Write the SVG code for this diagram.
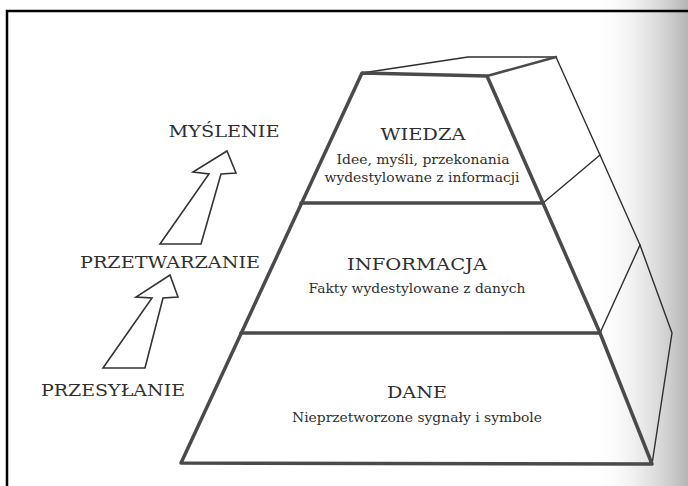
<svg xmlns="http://www.w3.org/2000/svg" width="688" height="486" viewBox="0 0 688 486">
<defs>
<linearGradient id="shade" x1="0" y1="0" x2="1" y2="0">
<stop offset="0" stop-color="#ffffff" stop-opacity="0"/>
<stop offset="0.55" stop-color="#d8d8d8" stop-opacity="0.6"/>
<stop offset="1" stop-color="#b4b4b4" stop-opacity="1"/>
</linearGradient>
<style>
.thick{fill:none;stroke:#4a4a4a;stroke-width:3.5;stroke-linejoin:round;stroke-linecap:round}
.thin{fill:none;stroke:#2e2e2e;stroke-width:1.4;stroke-linejoin:round;stroke-linecap:round}
.arrow{fill:#ffffff;stroke:#333333;stroke-width:1.6;stroke-linejoin:miter}
.cap{font-family:"DejaVu Serif","Liberation Serif",serif;font-size:17px;fill:#2f2f2f;text-anchor:middle}
.sub{font-family:"DejaVu Serif","Liberation Serif",serif;font-size:13px;fill:#2f2f2f;text-anchor:middle}
</style>
</defs>
<rect x="0" y="0" width="688" height="486" fill="#ffffff"/>
<rect x="590" y="0" width="98" height="486" fill="url(#shade)"/>
<path d="M7,486 V11 H688" fill="none" stroke="#000000" stroke-width="2.5"/>

<g id="pyramid-side">
<polyline class="thin" points="362,73 468,57 556,57"/>
<polyline class="thin" points="556,57 600,155 640,245 672,333 652,464"/>
<line class="thin" x1="543" y1="203" x2="600" y2="155"/>
<line class="thin" x1="600" y1="333" x2="640" y2="245"/>
<line class="thick" x1="556" y1="57" x2="487" y2="76" style="stroke-width:2.5"/>
</g>

<g id="pyramid-front">
<polygon class="thick" points="362,73 487,76 543,203 600,333 652,464 181,463"/>
</g>

<g id="wiedza">
<line class="thick" x1="301" y1="203" x2="543" y2="203"/>
<text class="cap" x="423" y="140" textLength="85" lengthAdjust="spacingAndGlyphs">WIEDZA</text>
<text class="sub" x="423" y="164" textLength="173" lengthAdjust="spacingAndGlyphs">Idee, myśli, przekonania</text>
<text class="sub" x="422" y="182" textLength="195" lengthAdjust="spacingAndGlyphs">wydestylowane z informacji</text>
</g>

<g id="informacja">
<line class="thick" x1="241" y1="333" x2="600" y2="333"/>
<text class="cap" x="417" y="270" textLength="140" lengthAdjust="spacingAndGlyphs">INFORMACJA</text>
<text class="sub" x="417" y="293" textLength="217" lengthAdjust="spacingAndGlyphs">Fakty wydestylowane z danych</text>
</g>

<g id="dane">
<text class="cap" x="417" y="398" textLength="60" lengthAdjust="spacingAndGlyphs">DANE</text>
<text class="sub" x="417" y="422" textLength="250" lengthAdjust="spacingAndGlyphs">Nieprzetworzone sygnały i symbole</text>
</g>

<g id="myslenie">
<text class="cap" x="224" y="137" textLength="111" lengthAdjust="spacingAndGlyphs">MYŚLENIE</text>
</g>
<g id="przetwarzanie">
<text class="cap" x="170" y="268" textLength="180" lengthAdjust="spacingAndGlyphs">PRZETWARZANIE</text>
</g>
<g id="przesylanie">
<text class="cap" x="113" y="396" textLength="144" lengthAdjust="spacingAndGlyphs">PRZESYŁANIE</text>
</g>

<g id="connectors">
<polygon class="arrow" points="227,151 236,173 221,174 201,244 160,244 209,174 193,172"/>
<polygon class="arrow" points="170,275 178,297 163,298 145,368 103,368 152,298 136,297"/>
</g>
</svg>
